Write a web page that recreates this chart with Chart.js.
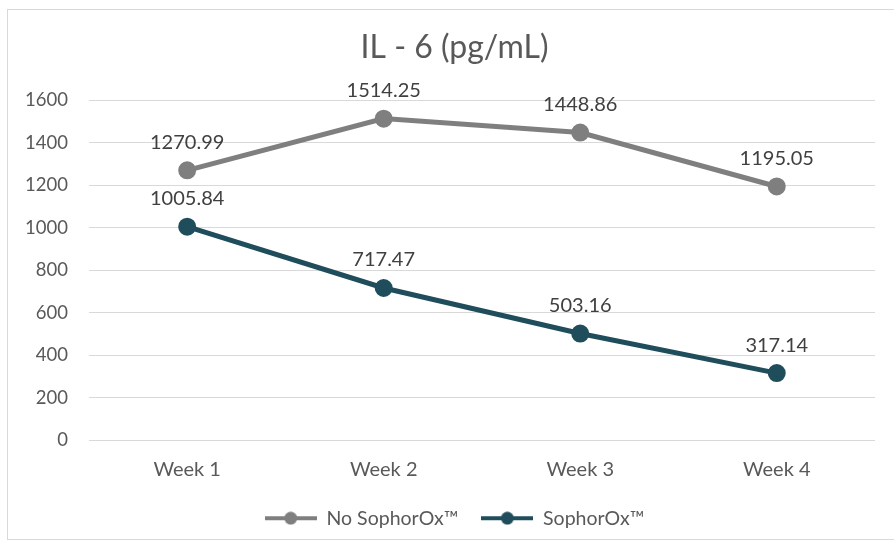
<!DOCTYPE html>
<html lang="en">
<head>
<meta charset="UTF-8">
<title>IL - 6 (pg/mL)</title>
<script src="https://cdn.jsdelivr.net/npm/chart.js"></script>
<style>
  html, body { margin: 0; padding: 0; background: #fff; }
  #chart { display: block; }
</style>
</head>
<body>
<canvas id="chart" width="894" height="548"></canvas>
<script>
const weeks = ['Week 1', 'Week 2', 'Week 3', 'Week 4'];
const noSophorOx = [1270.99, 1514.25, 1448.86, 1195.05];
const sophorOx = [1005.84, 717.47, 503.16, 317.14];
const yTicks = [0, 200, 400, 600, 800, 1000, 1200, 1400, 1600];

const grey = '#7f7f7f';
const teal = '#1f4d5b';
const textColor = '#595959';
const fontFamily = 'Lato, "Open Sans", sans-serif';

// legend swatch: short line with a dot in the middle, like Excel
function swatch(color) {
    const c = document.createElement('canvas');
    c.width = 52; c.height = 14;
    const g = c.getContext('2d');
    g.strokeStyle = color;
    g.lineWidth = 4;
    g.beginPath(); g.moveTo(0, 7); g.lineTo(52, 7); g.stroke();
    g.fillStyle = color;
    g.beginPath(); g.arc(26, 7, 6.5, 0, Math.PI * 2); g.fill();
    return c;
}

const frame = {
    id: 'frame',
    beforeDraw(chart) {
        const ctx = chart.ctx;
        ctx.save();
        ctx.strokeStyle = '#d9d9d9';
        ctx.lineWidth = 1;
        ctx.strokeRect(7.5, 9.5, 900, 530);
        ctx.restore();
    },
    // title is centred on the whole frame, so the y axis borrows the left padding back
    afterLayout(chart) {
        const y = chart.scales.y;
        y.left -= 30;
        y.width += 30;
    }
};

const pointLabels = {
    id: 'pointLabels',
    afterDatasetsDraw(chart) {
        const ctx = chart.ctx;
        ctx.save();
        ctx.font = '20px ' + fontFamily;
        ctx.fillStyle = '#404040';
        ctx.textAlign = 'center';
        ctx.textBaseline = 'middle';
        chart.data.datasets.forEach((ds, i) => {
            chart.getDatasetMeta(i).data.forEach((pt, j) => {
                ctx.fillText(ds.data[j].toFixed(2), pt.x, pt.y - 28);
            });
        });
        ctx.restore();
    }
};

new Chart(document.getElementById('chart'), {
    type: 'line',
    data: {
        labels: weeks,
        datasets: [{
            label: 'No SophorOx™',
            data: noSophorOx,
            borderColor: grey,
            backgroundColor: grey,
            borderWidth: 5,
            pointRadius: 6.5,
            pointHoverRadius: 6.5,
            pointStyle: 'circle',
            tension: 0
        }, {
            label: 'SophorOx™',
            data: sophorOx,
            borderColor: teal,
            backgroundColor: teal,
            borderWidth: 5,
            pointRadius: 6.5,
            pointHoverRadius: 6.5,
            pointStyle: 'circle',
            tension: 0
        }]
    },
    options: {
        responsive: false,
        animation: false,
        layout: { padding: { left: 34, right: 19, top: 14, bottom: 10 } },
        plugins: {
            title: {
                display: true,
                text: 'IL - 6 (pg/mL)',
                color: textColor,
                font: { family: fontFamily, size: 32, weight: 'normal' },
                padding: { top: 14, bottom: 34 }
            },
            legend: {
                position: 'bottom',
                labels: {
                    color: textColor,
                    font: { family: fontFamily, size: 19.5 },
                    usePointStyle: true,
                    pointStyleWidth: 52,
                    padding: 23,
                    generateLabels(chart) {
                        return chart.data.datasets.map((ds, i) => ({
                            text: ds.label,
                            pointStyle: swatch(ds.borderColor),
                            fontColor: textColor,
                            strokeStyle: ds.borderColor,
                            fillStyle: ds.borderColor,
                            lineWidth: 0,
                            datasetIndex: i
                        }));
                    }
                }
            },
            tooltip: { enabled: false }
        },
        scales: {
            x: {
                offset: true,
                grid: { display: false, drawTicks: false },
                border: { display: false },
                ticks: { color: textColor, font: { family: fontFamily, size: 20 }, padding: 17 },
                afterFit(axis) { axis.height -= 13; }
            },
            y: {
                min: 0,
                max: 1600,
                afterBuildTicks(axis) { axis.ticks = yTicks.map(v => ({ value: v })); },
                grid: { color: '#d9d9d9', lineWidth: 1, drawTicks: false },
                border: { display: false },
                ticks: {
                    color: textColor,
                    font: { family: fontFamily, size: 18.5 },
                    padding: 21,
                    callback: v => String(v)
                },
                afterFit(axis) { axis.width -= 30; }
            }
        }
    },
    plugins: [frame, pointLabels]
});
</script>
</body>
</html>
